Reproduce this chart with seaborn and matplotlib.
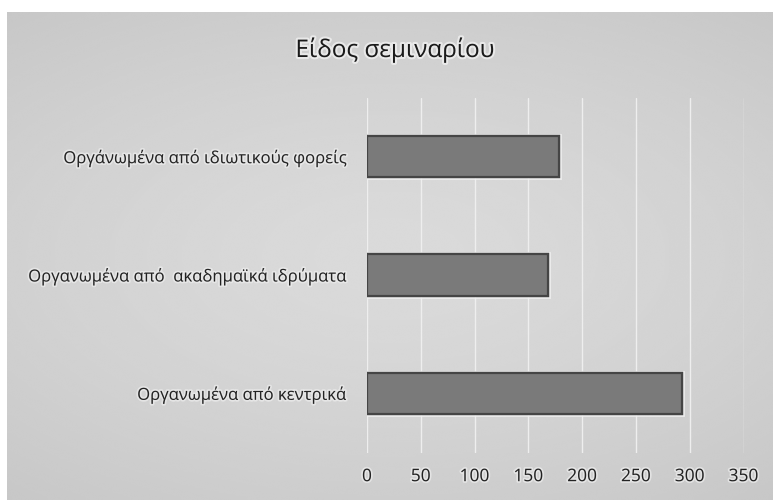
import numpy as np
import pandas as pd
import matplotlib
matplotlib.use("Agg")
import matplotlib.pyplot as plt
import matplotlib.patheffects as pe
import seaborn as sns

categories = [
    "Οργάνωμένα από ιδιωτικούς φορείς",
    "Οργανωμένα από  ακαδημαϊκά ιδρύματα",
    "Οργανωμένα από κεντρικά",
]
values = [178, 168, 293]
x_ticks = [0, 50, 100, 150, 200, 250, 300, 350]
title = "Είδος σεμιναρίου"

df = pd.DataFrame({"category": categories, "value": values})

sns.set_theme(style="white")
plt.rcParams["font.family"] = ["Open Sans", "DejaVu Sans"]

W, H = 773, 500
fig = plt.figure(figsize=(W / 100, H / 100), dpi=100)
fig.patch.set_facecolor("white")

# soft radial gray panel behind the chart
bg = fig.add_axes([7 / W, 0, 1 - 7 / W, 1 - 12 / H])
yy, xx = np.mgrid[0:1:300j, 0:1:500j]
r = np.sqrt(((xx - 0.5) / 0.8) ** 2 + ((yy - 0.5) / 0.65) ** 2)
r = np.clip(r, 0, 1)
shade = 0.855 - 0.075 * r ** 1.5
bg.imshow(shade, cmap="gray", vmin=0, vmax=1, aspect="auto",
          extent=[0, 1, 0, 1], origin="lower", interpolation="bicubic")
bg.set_axis_off()

ax = fig.add_axes([367 / W, 1 - 452.5 / H, (743.6 - 367) / W, (452.5 - 97.5) / H])
ax.set_facecolor("none")

sns.barplot(data=df, x="value", y="category", orient="h", ax=ax,
            color="#7a7a7a", edgecolor="#454545", linewidth=1.6,
            width=0.35, saturation=1)
for p in ax.patches:
    p.set_path_effects([pe.withStroke(linewidth=3.5, foreground="#f2f2f2", alpha=0.8),
                        pe.Normal()])

ax.set_xlim(0, 350)
ax.set_xticks(x_ticks)
ax.set_xticklabels([str(t) for t in x_ticks])
ax.xaxis.grid(True, color="#eeeeee", linewidth=1.0)
ax.set_axisbelow(True)
ax.yaxis.grid(False)
for s in ax.spines.values():
    s.set_visible(False)
ax.set_xlabel("")
ax.set_ylabel("")

glow = [pe.withStroke(linewidth=2.5, foreground="#ededed", alpha=0.7)]
ax.tick_params(axis="x", length=0, pad=12, labelsize=12.5, labelcolor="#222222")
ax.tick_params(axis="y", length=0, pad=15, labelsize=12, labelcolor="#222222")
for lbl in ax.get_xticklabels() + ax.get_yticklabels():
    lbl.set_path_effects(glow)

fig.text(395 / W, 1 - 50 / H, title, ha="center", va="center",
         fontsize=17.5, color="#1a1a1a",
         path_effects=[pe.withStroke(linewidth=3, foreground="#f0f0f0", alpha=0.8)])

fig.savefig("out.png", dpi=100)
